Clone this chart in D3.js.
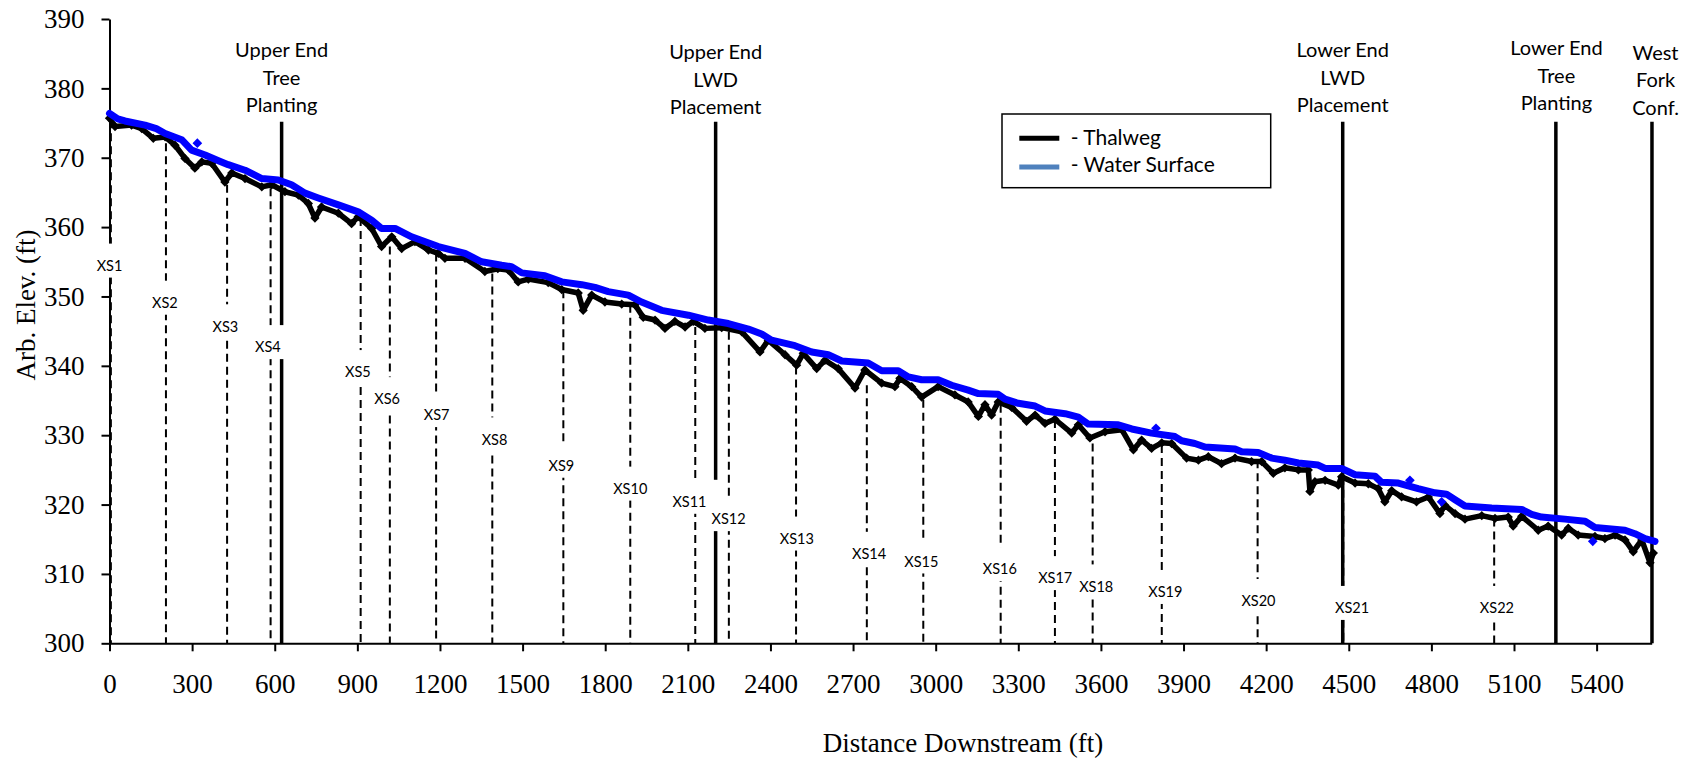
<!DOCTYPE html>
<html><head><meta charset="utf-8">
<script src="https://cdn.jsdelivr.net/npm/d3@7"></script>
<style>body{margin:0;background:#fff} svg{display:block}</style>
</head><body>
<svg id="chart" width="1700" height="767"></svg>
<script>
const xTickValues = [0,300,600,900,1200,1500,1800,2100,2400,2700,3000,3300,3600,3900,4200,4500,4800,5100,5400];
const yTickValues = [300,310,320,330,340,350,360,370,380,390];

const thalwegDist = [0,20,80,117,159,202,238,274,310,335,371,419,444,492,553,589,637,686,722,746,770,831,879,903,952,988,1025,1061,1109,1158,1194,1218,1291,1363,1410,1448,1484,1521,1593,1642,1702,1720,1751,1799,1860,1908,1938,1981,2017,2053,2090,2120,2162,2223,2296,2362,2392,2453,2495,2519,2568,2598,2646,2707,2743,2804,2852,2870,2913,2949,3009,3070,3118,3155,3179,3203,3227,3276,3330,3361,3397,3433,3494,3518,3560,3615,3676,3718,3748,3784,3821,3857,3911,3954,3990,4038,4087,4147,4184,4226,4268,4317,4353,4359,4377,4414,4462,4474,4523,4571,4607,4631,4656,4692,4746,4789,4831,4849,4886,4922,4983,5031,5079,5097,5128,5188,5224,5273,5297,5333,5394,5430,5467,5503,5533,5564,5594,5606];
const thalwegElev = [375.7,374.5,374.7,374.2,372.8,373.0,371.8,369.9,368.5,369.4,369.2,366.5,367.8,367.0,365.8,366.1,365.1,364.6,363.4,361.3,362.9,362.0,360.5,361.5,359.8,357.2,358.6,356.9,357.9,356.7,356.2,355.5,355.5,353.6,354.0,353.8,352.1,352.5,352.0,351.0,350.5,348.0,350.2,349.2,348.9,348.8,347.0,346.6,345.4,346.4,345.6,346.4,345.4,345.5,344.9,342.0,343.7,341.6,340.1,341.8,339.6,340.8,339.6,336.8,339.4,337.5,337.0,338.2,337.0,335.5,337.0,335.8,334.8,332.7,334.4,332.9,334.8,334.0,332.0,332.9,331.7,332.3,330.3,331.5,329.6,330.5,330.8,327.9,329.3,328.1,328.9,328.8,326.7,326.4,326.9,325.9,326.7,326.2,326.2,324.5,325.3,325.0,325.0,321.9,323.3,323.5,322.8,324.0,323.1,323.0,322.3,320.4,322.0,321.1,320.4,321.1,318.7,319.9,318.7,317.9,318.4,318.0,318.2,316.9,318.3,316.3,316.9,315.6,316.6,315.6,315.4,315.1,315.6,314.9,313.2,314.9,311.6,313.0];

const waterDist = [0,30,56,129,170,202,262,298,347,400,431,492,553,613,661,710,758,831,903,952,988,1037,1097,1194,1291,1351,1424,1460,1497,1581,1642,1715,1763,1811,1884,1932,2005,2102,2174,2247,2320,2368,2404,2489,2550,2610,2659,2755,2804,2864,2901,2949,3009,3058,3118,3155,3227,3252,3300,3361,3397,3470,3518,3554,3663,3712,3784,3869,3893,3941,3978,4087,4111,4171,4220,4268,4317,4389,4414,4474,4523,4595,4619,4680,4752,4813,4855,4886,4922,5019,5128,5164,5200,5285,5358,5394,5503,5539,5576,5612];
const waterElev = [376.4,375.6,375.3,374.7,374.2,373.5,372.6,371.1,370.4,369.5,369.0,368.2,367.0,366.8,366.1,364.9,364.2,363.2,362.2,361.0,359.8,359.8,358.6,357.2,356.2,355.0,354.5,354.3,353.4,353.0,352.1,351.7,351.3,350.7,350.2,349.2,348.0,347.3,346.6,346.1,345.3,344.6,343.7,342.9,342.0,341.6,340.7,340.4,339.3,339.3,338.4,338.0,338.0,337.2,336.5,336.0,335.9,335.2,334.6,334.2,333.5,333.1,332.6,331.6,331.5,330.9,330.3,329.8,329.2,328.8,328.3,328.0,327.6,327.5,326.7,326.4,326.0,325.7,325.2,325.2,324.3,324.1,323.2,323.1,322.3,321.7,321.5,320.7,319.8,319.5,319.3,318.6,318.2,317.9,317.6,316.7,316.3,315.8,315.1,314.7];
const waterOutlierDist = [319,3800,4722,4837,5386];
const waterOutlierElev = [372.1,331.0,323.5,320.4,314.7];

const xsNames = ["XS1","XS2","XS3","XS4","XS5","XS6","XS7","XS8","XS9","XS10","XS11","XS12","XS13","XS14","XS15","XS16","XS17","XS18","XS19","XS20","XS21","XS22"];
const xsDist = [5,205,427,585,912,1018,1186,1390,1648,1891,2127,2249,2493,2750,2955,3236,3433,3570,3821,4169,4480,5028];
const xsTopElev = [375.4,372.1,366.1,365.6,361.3,357.2,356.2,353.3,350.9,348.8,345.6,344.9,339.9,337.2,335.1,334.4,332.2,328.8,328.6,326.4,324.0,318.0];
const xsLabelDist = [0,201,421,575,902,1008,1188,1398,1641,1891,2106,2248,2496,2758,2948,3233,3434,3583,3834,4172,4512,5038];
const xsLabelElev = [354.45,349.1,345.7,342.7,339.1,335.2,332.9,329.4,325.6,322.3,320.4,317.9,315.1,312.9,311.8,310.7,309.4,308.2,307.4,306.1,305.1,305.1];

const siteNames = [["Upper End","Tree","Planting"],["Upper End","LWD","Placement"],["Lower End","LWD","Placement"],["Lower End","Tree","Planting"],["West","Fork","Conf."]];
const siteDist = [625,2201,4478,5252,5601];
const siteLabelDist = [625,2201,4478,5254,5614];
const siteLabelElev = [384.5,384.2,384.5,384.8,384.1];
const siteTopElev = 375.2;

const legendNames = ["- Thalweg","- Water Surface"];

const svg = d3.select("#chart");
const x = d3.scaleLinear().domain([0,5600]).range([109.5,1651.7]);
const y = d3.scaleLinear().domain([300,390]).range([643.3,19]);
const serif = "'Liberation Serif','Times New Roman',serif";
const sans = "Lato,'Open Sans',sans-serif";

// axes
const gx = svg.append("g").attr("transform",`translate(0,${y(300)})`)
  .call(d3.axisBottom(x).tickValues(xTickValues).tickFormat(d3.format("d")).tickSize(8).tickSizeOuter(0).tickPadding(23));
const gy = svg.append("g").attr("transform",`translate(${x(0)},0)`)
  .call(d3.axisLeft(y).tickValues(yTickValues).tickFormat(d3.format("d")).tickSize(8).tickSizeOuter(0).tickPadding(17));
[gx,gy].forEach(g=>{
  g.select(".domain").attr("stroke","#000").attr("stroke-width",2);
  g.selectAll(".tick line").attr("stroke","#000").attr("stroke-width",2);
  g.selectAll(".tick text").attr("fill","#000").style("font-family",serif).style("font-size","27px");
});

// site marker lines
svg.append("g").selectAll("line").data(siteDist).join("line")
  .attr("x1",d=>x(d)).attr("x2",d=>x(d)).attr("y1",y(siteTopElev)).attr("y2",y(300))
  .attr("stroke","#000").attr("stroke-width",3.5);

// XS dashed lines
svg.append("g").selectAll("line").data(xsDist).join("line")
  .attr("x1",d=>x(d)).attr("x2",d=>x(d)).attr("y1",(d,i)=>y(xsTopElev[i])).attr("y2",y(300))
  .attr("stroke","#000").attr("stroke-width",2).attr("stroke-dasharray","8,5");

// thalweg
const thal = thalwegDist.map((d,i)=>[d,thalwegElev[i]]);
const water = waterDist.map((d,i)=>[d,waterElev[i]]);
const line = d3.line().x(d=>x(d[0])).y(d=>y(d[1]));
svg.append("path").datum(thal).attr("d",line).attr("fill","none").attr("stroke","#000")
  .attr("stroke-width",5.5).attr("stroke-linejoin","round").attr("stroke-linecap","round");
svg.append("g").selectAll("path").data(thal).join("path")
  .attr("transform",d=>`translate(${x(d[0])},${y(d[1])})`)
  .attr("d",d3.symbol(d3.symbolDiamond2,55)).attr("fill","#000");

// water surface
svg.append("path").datum(water).attr("d",line).attr("fill","none").attr("stroke","#0000FF")
  .attr("stroke-width",7).attr("stroke-linejoin","round").attr("stroke-linecap","round");
svg.append("g").selectAll("path").data(waterOutlierDist).join("path")
  .attr("transform",(d,i)=>`translate(${x(d)},${y(waterOutlierElev[i])})`)
  .attr("d",d3.symbol(d3.symbolDiamond2,60)).attr("fill","#0000FF");

// XS labels
const lab = svg.append("g");
lab.selectAll("rect").data(xsDist).join("rect")
  .attr("x",d=>x(d)-23).attr("width",46)
  .attr("y",(d,i)=>y(xsLabelElev[i])-22).attr("height",34).attr("fill","#fff");
lab.selectAll("text").data(xsNames).join("text")
  .attr("x",(d,i)=>x(xsLabelDist[i])).attr("y",(d,i)=>y(xsLabelElev[i])).attr("dy","0.36em")
  .attr("text-anchor","middle").style("font-family",sans).style("font-size","14.5px").attr("fill","#000")
  .text(d=>d);

// site labels
siteNames.forEach((lines,i)=>{
  const t = svg.append("text").attr("text-anchor","middle").style("font-family",sans).style("font-size","20px").attr("fill","#000");
  lines.forEach((s,j)=>{
    t.append("tspan").attr("x",x(siteLabelDist[i])).attr("y",y(siteLabelElev[i])+j*27.5).text(s);
  });
});

// legend
const lg = svg.append("g");
lg.append("rect").attr("x",1002).attr("y",114).attr("width",268.7).attr("height",73.7)
  .attr("fill","#fff").attr("stroke","#000").attr("stroke-width",1.5);
const legendColors = ["#000","#4F81BD"];
legendNames.forEach((n,i)=>{
  lg.append("line").attr("x1",1019.3).attr("x2",1059.3).attr("y1",138.3+i*28.7).attr("y2",138.3+i*28.7)
    .attr("stroke",legendColors[i]).attr("stroke-width",5);
  lg.append("text").attr("x",1070.7).attr("y",145+i*27).style("font-family",sans).style("font-size","21px").attr("fill","#000").text(n);
});

// axis titles
svg.append("text").attr("transform","translate(35,305) rotate(-90)").attr("text-anchor","middle")
  .style("font-family",serif).style("font-size","27px").attr("fill","#000").text("Arb. Elev. (ft)");
svg.append("text").attr("x",963).attr("y",752).attr("text-anchor","middle")
  .style("font-family",serif).style("font-size","27px").attr("fill","#000").text("Distance Downstream (ft)");
</script>
</body></html>
